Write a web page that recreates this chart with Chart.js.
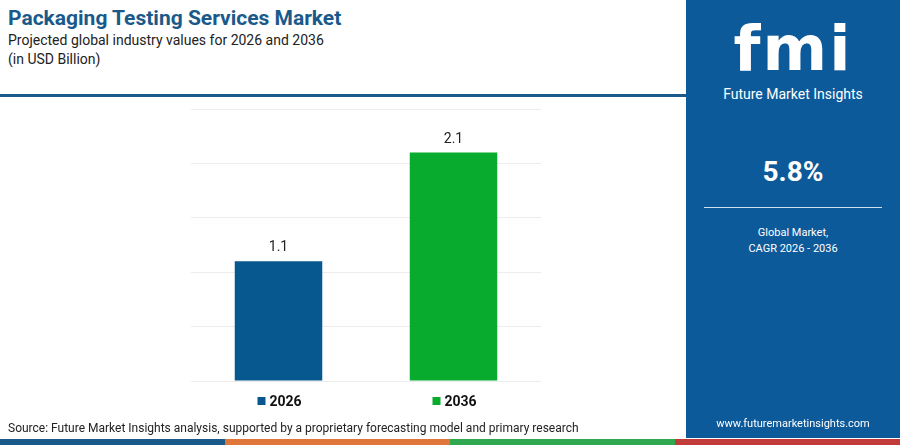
<!DOCTYPE html><html><head><meta charset="utf-8">
<script src="https://cdn.jsdelivr.net/npm/chart.js@4"></script>
<style>
body{margin:0;width:900px;height:445px;overflow:hidden;background:#fff;font-family:Roboto,"Open Sans",sans-serif;position:relative}
#t1{position:absolute;left:8px;top:6px;font-size:21px;font-weight:700;color:#1a5a8a}
#t2{position:absolute;left:8px;top:31px;font-size:14px;color:#222;line-height:19px}
#hl{position:absolute;left:0;top:94px;width:686px;height:3px;background:#1a5a8a}
#panel{position:absolute;left:686px;top:0;width:214px;height:438px;background:#0d5a9a;color:#fff;text-align:center}
#src{position:absolute;left:8px;top:421px;font-size:12px;color:#222}
#strip{position:absolute;left:0;top:439px;width:900px;height:6px;display:flex}
#wrap{position:absolute;left:191px;top:104px;width:350px;height:318px}
</style></head><body>
<div id="t1">Packaging Testing Services Market</div>
<div id="t2">Projected global industry values for 2026 and 2036<br>(in USD Billion)</div>
<div id="hl"></div>
<div id="wrap"><canvas id="c"></canvas></div>
<div id="src">Source: Future Market Insights analysis, supported by a proprietary forecasting model and primary research</div>
<div id="panel">
 <div style="position:absolute;top:12px;width:100%;font-size:62px;font-weight:900;letter-spacing:2px;font-family:'DejaVu Sans'">fmi</div>
 <div style="position:absolute;top:86px;width:100%;font-size:14px">Future Market Insights</div>
 <div style="position:absolute;top:155px;width:100%;font-size:28px;font-weight:700">5.8%</div>
 <div style="position:absolute;top:207px;left:18px;width:178px;height:1px;background:#cfe0ef"></div>
 <div style="position:absolute;top:225px;width:100%;font-size:11px;line-height:16px">Global Market,<br>CAGR 2026 - 2036</div>
 <div style="position:absolute;top:417px;width:100%;font-size:11px">www.futuremarketinsights.com</div>
</div>
<div id="strip"><div style="flex:1;background:#1a5a8a"></div><div style="flex:1;background:#e0763a"></div><div style="flex:1;background:#2fa84f"></div><div style="flex:1;background:#c23b3b"></div></div>
<script>
const categories=["2026","2036"];
const values=[1.1,2.1];
const colors=["#06588e","#08ab2e"];
new Chart(document.getElementById('c'),{
 type:'bar',
 data:{labels:categories,datasets:[{data:values,backgroundColor:colors,barPercentage:0.5,categoryPercentage:1}]},
 options:{responsive:true,maintainAspectRatio:false,animation:false,
  layout:{padding:{top:5,bottom:41,left:0,right:0}},
  plugins:{legend:{display:false},tooltip:{enabled:false}},
  scales:{x:{display:false},y:{min:0,max:2.5,ticks:{display:false,stepSize:0.5},border:{display:false},grid:{color:'#ececec',drawTicks:false}}}},
 plugins:[{id:'lab',afterDatasetsDraw(ch){const c=ch.ctx;const m=ch.getDatasetMeta(0);c.save();
  m.data.forEach((b,i)=>{c.font='14px Roboto';c.fillStyle='#222';c.textAlign='center';c.fillText(values[i].toFixed(1),b.x,b.y-10);
   c.fillStyle=colors[i];c.fillRect(b.x-21,ch.chartArea.bottom+16,8,8);c.fillStyle='#111';c.font='bold 14px Roboto';c.textAlign='left';c.fillText(categories[i],b.x-9,ch.chartArea.bottom+25);});
  c.restore();}}]
});
</script></body></html>
